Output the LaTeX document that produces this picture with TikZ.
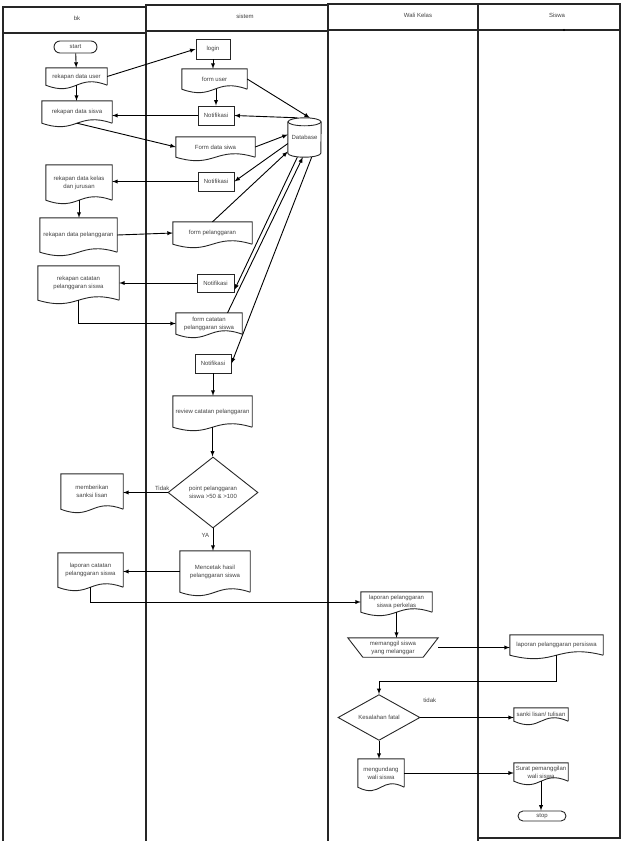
\documentclass[tikz,border=0pt]{standalone}
\usepackage{fontspec}
\setmainfont{Liberation Sans}
\usetikzlibrary{calc,shapes.geometric}
\tikzset{
  every node/.style={font=\fontsize{6}{8}\selectfont, text=black!75},
  shapeline/.style={draw=black!85, line width=0.9pt},
  docnode/.style={align=center, inner sep=1pt},
  procbox/.style={shapeline, align=center, inner sep=1pt},
  termnode/.style={shapeline, inner sep=1pt},
  decision/.style={shapeline, diamond, align=center, inner sep=0pt},
  flow/.style={draw=black, line width=0.9pt, -latex},
  lane/.style={draw=black!85, line width=1.7pt}
}
% document symbol: box with a wavy bottom
\newcommand{\docshape}[1]{%
  \draw[shapeline] (#1.south east) -- (#1.north east) -- (#1.north west) -- (#1.south west)
    .. controls ($(#1.south)+(0,12)$) and ($(#1.south)+(0,-12)$) .. (#1.south east);}
\begin{document}
\begin{tikzpicture}[x=1pt,y=-1pt]
	\useasboundingbox (0,0) rectangle (626,841);

	% lanes
	\draw[lane] (3,841) -- (3,7) -- (146,7) -- (146,841);
	\draw[lane] (3,33) -- (146,33);
	\draw[lane] (146,841) -- (146,5) -- (328,5) -- (328,841);
	\draw[lane] (146,31) -- (328,31);
	\draw[lane] (328,841) -- (328,4) -- (478,4) -- (478,841);
	\draw[lane] (328,30) -- (478,30);
	\draw[lane] (478,4) rectangle (620,838);
	\draw[lane] (478,30) -- (620,30);
	\node (hbk) at (77,18) {bk};
	\node (hsistem) at (245,16) {sistem};
	\node (hwali) at (418,15) {Wali Kelas};
	\node (hsiswa) at (557,15) {Siswa};
	\fill (564,30) circle (1.2pt);

	% bk
	\node[termnode, rounded corners=6pt, minimum width=43pt, minimum height=12pt] (start) at (75.5,47) {start};
	\node[docnode, minimum width=61pt, minimum height=17pt] (userrec) at (76.5,76.5) {rekapan data user};
	\node[docnode, minimum width=70pt, minimum height=22pt] (sisvarec) at (77,112) {rekapan data sisva};
	\node[docnode, minimum width=66pt, minimum height=35pt] (kelasrec) at (79,182.5) {rekapan data kelas\\dan jurusan};
	\node[docnode, minimum width=77pt, minimum height=34pt] (langgarrec) at (78.5,235) {rekapan data pelanggaran};
	\node[docnode, minimum width=81pt, minimum height=34pt] (catatanrec) at (78.5,283) {rekapan catatan\\pelanggaran siswa};
	\node[docnode, minimum width=62pt, minimum height=35pt] (sanksi) at (92,491.5) {memberikan\\sanksi lisan};
	\node[docnode, minimum width=65pt, minimum height=34pt] (laporancat) at (90.5,570) {laporan catatan\\pelanggaran siswa};

	% sistem
	\node[procbox, minimum width=34pt, minimum height=20pt] (login) at (213,49) {login};
	\node[docnode, minimum width=65pt, minimum height=20pt] (formuser) at (214.5,79) {form user};
	\node[procbox, minimum width=36pt, minimum height=19pt] (notif1) at (216,115.5) {Notifikasi};
	\node[docnode, minimum width=79pt, minimum height=20pt] (formsiswa) at (215.5,147) {Form data siwa};
	\node[procbox, minimum width=36pt, minimum height=19pt] (notif2) at (216,181.5) {Notifikasi};
	\node[docnode, minimum width=79pt, minimum height=22pt] (formlanggar) at (212.5,233) {form pelanggaran};
	\node[procbox, minimum width=37pt, minimum height=18pt] (notif3) at (215.5,283) {Notifikasi};
	\node[docnode, minimum width=66pt, minimum height=21pt] (formcatatan) at (209,323.5) {form catatan\\pelanggaran siswa};
	\node[procbox, minimum width=36pt, minimum height=19pt] (notif4) at (213,363.5) {Notifikasi};
	\node[docnode, minimum width=79pt, minimum height=31pt] (review) at (212.5,411.5) {review catatan pelanggaran};
	\node[decision, minimum width=90pt, minimum height=71pt] (cek) at (213,492.5) {point pelanggaran\\siswa >50 \& >100};
	\node[docnode, minimum width=70pt, minimum height=41pt] (mencetak) at (215,571.5) {Mencetak hasil\\pelanggaran siswa};
	\node[docnode, minimum width=33pt, minimum height=39pt] (db) at (304.5,137.5) {Database};

	% wali kelas
	\node[docnode, minimum width=71pt, minimum height=20pt] (perkelas) at (396.5,602) {laporan pelanggaran\\siswa perkelas};
	\node[docnode, minimum width=90pt, minimum height=19pt] (panggil) at (393,647.5) {memanggil siswa\\yang melanggar};
	\node[decision, minimum width=82pt, minimum height=41pt] (fatal) at (379,717.5) {Kesalahan fatal};
	\node[docnode, minimum width=46pt, minimum height=28pt] (mengundang) at (381,773) {mengundang\\wali siswa};

	% siswa
	\node[docnode, minimum width=93pt, minimum height=20pt] (persiswa) at (556.5,645) {laporan pelanggaran persiswa};
	\node[docnode, minimum width=54pt, minimum height=13pt] (sanksilisan) at (541,714.5) {sanki lisan/ tulisan};
	\node[docnode, minimum width=54pt, minimum height=18pt] (suratpanggil) at (541,772) {Surat pemanggilan\\wali siswa};
	\node[termnode, rounded corners=5pt, minimum width=48pt, minimum height=10pt] (stop) at (542,816) {stop};

	\foreach \d in {userrec,sisvarec,kelasrec,langgarrec,catatanrec,sanksi,laporancat,
		formuser,formsiswa,formlanggar,formcatatan,review,mencetak,perkelas,mengundang,
		persiswa,sanksilisan,suratpanggil}
		\docshape{\d};
	\draw[shapeline] (panggil.north west) -- (panggil.north east) -- ($(panggil.south east)+(-15,0)$)
		-- ($(panggil.south west)+(15,0)$) -- cycle;
	\draw[shapeline] ($(db.north west)+(0,4)$) -- ($(db.south west)+(0,-4)$)
		arc[start angle=180, end angle=360, x radius=16.5pt, y radius=4pt] -- ($(db.north east)+(0,4)$);
	\draw[shapeline] ($(db.north)+(0,4)$) ellipse [x radius=16.5pt, y radius=4pt];

	% arrows
	\draw[flow] (start) -- (userrec);
	\draw[flow] (userrec.east) -- (login.west);
	\draw[flow] (userrec.south) -- (userrec.south |- sisvarec.north);
	\draw[flow] (login.south) -- (login.south |- formuser.north);
	\draw[flow] (notif1.north |- formuser.south) -- (notif1.north);
	\draw[flow] (formuser.east) -- (db.75);
	\draw[flow] (db.110) -- (notif1.east);
	\draw[flow] (notif1.west) -- (notif1.west -| sisvarec.east);
	\draw[flow] (sisvarec.south) -- (formsiswa.west);
	\draw[flow] (formsiswa.east) -- (db.170);
	\draw[flow] (db.200) -- (notif2.east);
	\draw[flow] (notif2.west) -- (notif2.west -| kelasrec.east);
	\draw[flow] (kelasrec.south) -- (kelasrec.south |- langgarrec.north);
	\draw[flow] (langgarrec.east) -- (formlanggar.west);
	\draw[flow] (formlanggar.north) -- (db.220);
	\draw[flow] (db.250) -- (notif3.340);
	\draw[flow] (notif3.west) -- (notif3.west -| catatanrec.east);
	\draw[flow] (catatanrec.south) |- (formcatatan.west);
	\draw[flow] (formcatatan.30) -- (db.265);
	\draw[flow] (db.290) -- (notif4.east);
	\draw[flow] (notif4.south) -- (notif4.south |- review.north);
	\draw[flow] (review.south) -- (review.south |- cek.north);
	\draw[flow] (cek.west) -- node[pos=0.12, above, inner sep=1.5pt] (ltidak) {Tidak} (cek.west -| sanksi.east);
	\draw[flow] (cek.south) -- node[pos=0.3, left] (lya) {YA} (cek.south |- mencetak.north);
	\draw[flow] (mencetak.west) -- (mencetak.west -| laporancat.east);
	\draw[flow] (laporancat.south) |- (perkelas.west);
	\draw[flow] (perkelas.south) -- (perkelas.south |- panggil.north);
	\draw[flow] (panggil.east) -- (panggil.east -| persiswa.west);
	\draw[flow] (persiswa.south) -- ++(0,26) -| (fatal.north);
	\draw[flow] (fatal.east) -- node[pos=0.1, above=11pt] (ltidak2) {tidak} (fatal.east -| sanksilisan.west);
	\draw[flow] (fatal.south) -- (fatal.south |- mengundang.north);
	\draw[flow] (mengundang.east) -- (mengundang.east -| suratpanggil.west);
	\draw[flow] (suratpanggil.south) -- (suratpanggil.south |- stop.north);
\end{tikzpicture}
\end{document}
